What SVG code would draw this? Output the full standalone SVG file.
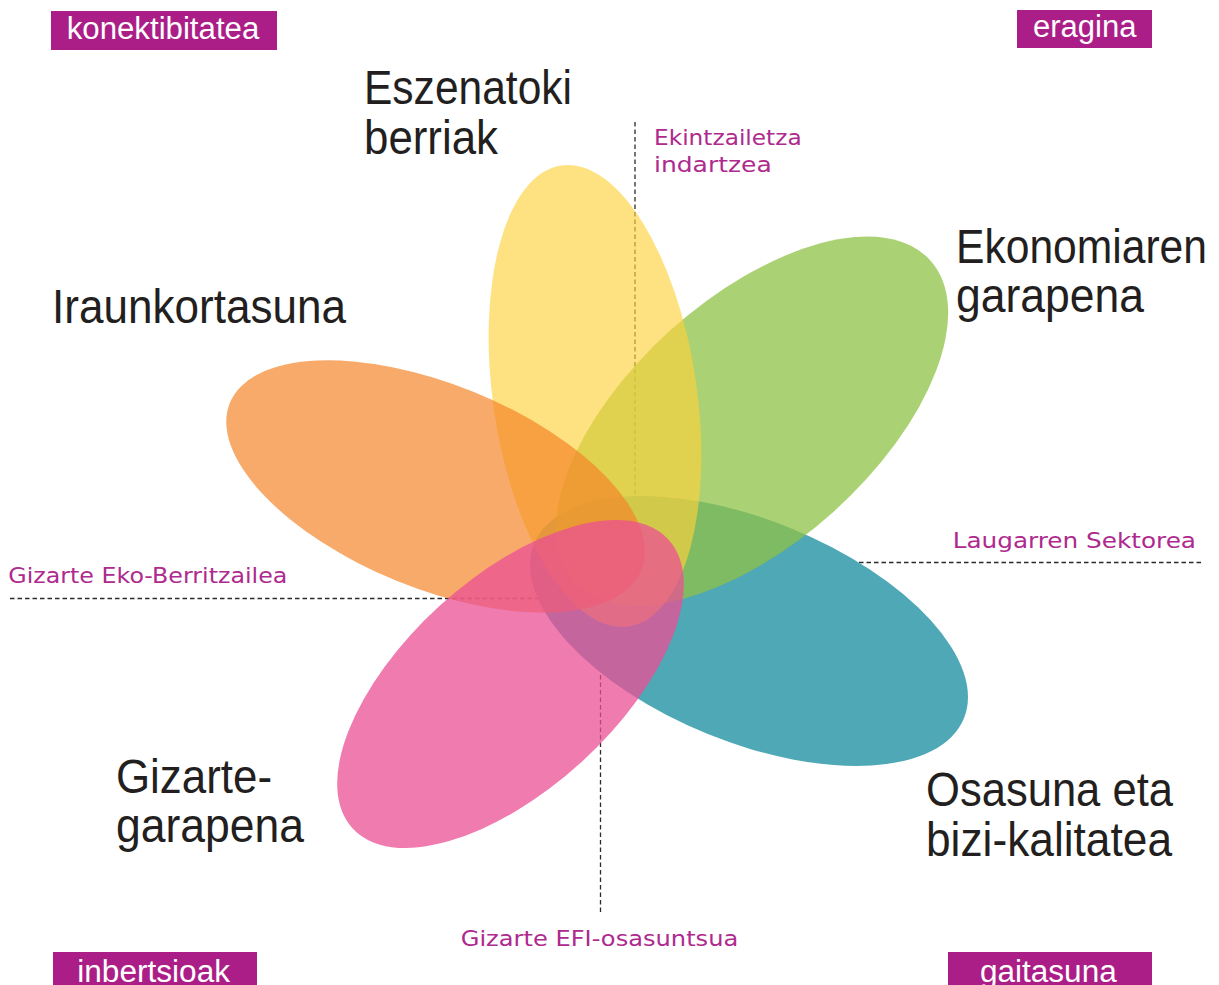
<svg xmlns="http://www.w3.org/2000/svg" width="1219" height="985" viewBox="0 0 1219 985">
<style>
.dash{stroke:#2b2b2b;stroke-width:1.3;stroke-dasharray:4.5 3;fill:none}
.box{fill:#AB1E87}
.boxt{font-family:"Liberation Sans",Arial,sans-serif;font-size:31px;fill:#ffffff}
.sub{font-family:"DejaVu Sans","Liberation Sans",sans-serif;font-size:22px;fill:#AE2A8E}
.big{font-family:"Liberation Sans Narrow","Liberation Sans",Arial,sans-serif;font-size:48px;fill:#231F20}
</style>
<rect width="1219" height="985" fill="#ffffff"/>
<g id="connectors">
<line class="dash" x1="635" y1="122" x2="635" y2="600"/>
<line class="dash" x1="10" y1="598.5" x2="650" y2="598.5"/>
<line class="dash" x1="1201" y1="562.5" x2="750" y2="562.5"/>
<line class="dash" x1="600.5" y1="912" x2="600.5" y2="640"/>
</g>
<g id="petals">
<g id="petal-osasuna"><ellipse transform="translate(749 631) rotate(22.1)" rx="232" ry="111" fill="#4FA8B6"/></g>
<g id="petal-ekonomia"><ellipse transform="translate(752 421) rotate(-42)" rx="240" ry="122" fill="#8EC246" fill-opacity="0.75"/></g>
<g id="petal-eszenatoki"><ellipse transform="translate(595 396) rotate(81.7)" rx="233" ry="102" fill="#FED13C" fill-opacity="0.65"/></g>
<g id="petal-iraunkortasuna"><ellipse transform="translate(435.5 486.5) rotate(22.1)" rx="222" ry="102" fill="#F48629" fill-opacity="0.7"/></g>
<g id="petal-gizarte"><ellipse transform="translate(510.5 684) rotate(-42.4)" rx="214" ry="105.5" fill="#EB4F94" fill-opacity="0.75"/></g>
</g>
<g id="corner-konektibitatea"><rect class="box" x="51" y="11" width="226" height="39"/><text class="boxt" x="66.7" y="38.5" textLength="192.6" lengthAdjust="spacingAndGlyphs">konektibitatea</text></g>
<g id="corner-eragina"><rect class="box" x="1017" y="10" width="135" height="38"/><text class="boxt" x="1033" y="36.5" textLength="103.4" lengthAdjust="spacingAndGlyphs">eragina</text></g>
<g id="corner-inbertsioak"><rect class="box" x="53" y="952" width="204" height="33"/><text class="boxt" x="77.3" y="982" textLength="152.7" lengthAdjust="spacingAndGlyphs">inbertsioak</text></g>
<g id="corner-gaitasuna"><rect class="box" x="948" y="952" width="204" height="33"/><text class="boxt" x="980" y="982" textLength="136.7" lengthAdjust="spacingAndGlyphs">gaitasuna</text></g>
<g id="axis-labels">
<text class="sub" x="654" y="145" textLength="147.7" lengthAdjust="spacingAndGlyphs">Ekintzailetza</text>
<text class="sub" x="654" y="171.7" textLength="117.7" lengthAdjust="spacingAndGlyphs">indartzea</text>
<text class="sub" x="8.3" y="582.7" textLength="279" lengthAdjust="spacingAndGlyphs">Gizarte Eko-Berritzailea</text>
<text class="sub" x="952.7" y="548.3" textLength="243.3" lengthAdjust="spacingAndGlyphs">Laugarren Sektorea</text>
<text class="sub" x="460.7" y="946" textLength="277.6" lengthAdjust="spacingAndGlyphs">Gizarte EFI-osasuntsua</text>
</g>
<g id="petal-labels">
<text class="big" x="364" y="104" textLength="208" lengthAdjust="spacingAndGlyphs">Eszenatoki</text>
<text class="big" x="364" y="154" textLength="134" lengthAdjust="spacingAndGlyphs">berriak</text>
<text class="big" x="52" y="323" textLength="294" lengthAdjust="spacingAndGlyphs">Iraunkortasuna</text>
<text class="big" x="956" y="263" textLength="251" lengthAdjust="spacingAndGlyphs">Ekonomiaren</text>
<text class="big" x="956" y="312" textLength="188" lengthAdjust="spacingAndGlyphs">garapena</text>
<text class="big" x="116" y="793" textLength="156" lengthAdjust="spacingAndGlyphs">Gizarte-</text>
<text class="big" x="116" y="842" textLength="188" lengthAdjust="spacingAndGlyphs">garapena</text>
<text class="big" x="926" y="806" textLength="247" lengthAdjust="spacingAndGlyphs">Osasuna eta</text>
<text class="big" x="926" y="856" textLength="246" lengthAdjust="spacingAndGlyphs">bizi-kalitatea</text>
</g>
</svg>
